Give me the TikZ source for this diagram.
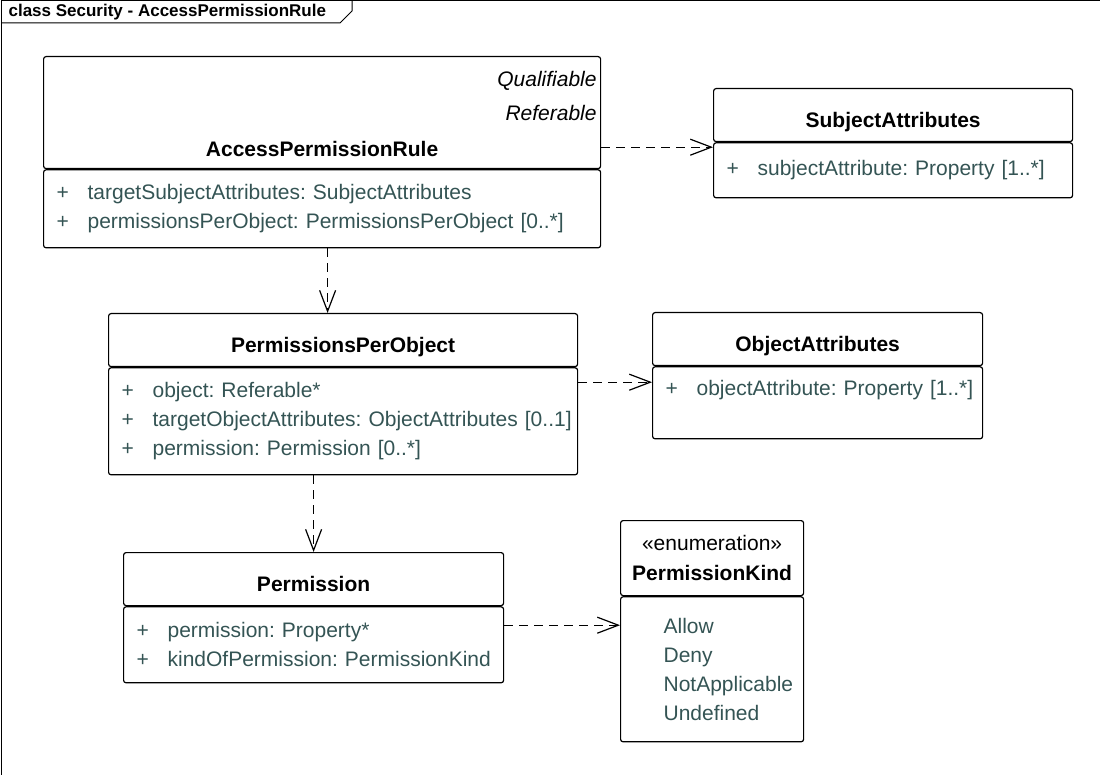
\documentclass[tikz,border=0pt]{standalone}
\usepackage{fontspec}
\setmainfont{Liberation Sans}
\usepackage{xcolor}
\usetikzlibrary{positioning,arrows.meta}

\definecolor{attrgray}{RGB}{52,84,84}
\newcommand{\attr}[1]{\mbox{\makebox[31pt][l]{+}#1}}
\newcommand{\lit}[1]{\mbox{\hspace*{30pt}#1}}
\frenchspacing

\begin{document}
\begin{tikzpicture}[x=1pt, y=-1pt, line width=1.2pt,
  frm/.style={line width=1pt},
  tabtxt/.style={inner sep=0pt, font=\fontsize{17}{20}\selectfont\bfseries},
  cls/.style={draw, rounded corners=2.5pt, inner sep=0pt, anchor=north west},
  hd/.style={cls, align=center, font=\fontsize{21}{30}\selectfont\bfseries},
  hdone/.style={hd, text height=25pt, text depth=0pt},
  bd/.style={cls, inner xsep=13pt, text width=#1, align=left, text=attrgray, font=\fontsize{21}{29}\selectfont},
  ttl/.style={inner sep=0pt, font=\fontsize{21}{30}\selectfont\bfseries},
  stereo/.style={inner sep=0pt, align=right, font=\fontsize{21}{34}\selectfont\itshape},
  dep/.style={dash pattern=on 9pt off 6pt, -{Straight Barb[length=21pt,width=16pt]}}]
  \useasboundingbox (0,0) rectangle (1100,775);
  \clip (0,0) rectangle (1100,775);

  % frame and name tab
  \draw[frm] (1,790) -- (1,1) -- (1110,1);
  \draw[frm] (1,23) -- (340,23) -- (352,11) -- (352,1);
  \node[tabtxt, anchor=west] (tab) at (8,12) {class Security - AccessPermissionRule};

  % classes
  \node[cls, minimum width=557pt, minimum height=112pt] (aprT) at (43,56) {};
  \node[ttl, anchor=base] (aprN) at ([yshift=13pt]aprT.south) {AccessPermissionRule};
  \node[stereo, anchor=north east] (aprS) at ([xshift=-4pt,yshift=-15pt]aprT.north east) {Qualifiable\\Referable};
  \node[bd=531pt, minimum height=78pt] (aprA) at (aprT.south west)
    {\attr{targetSubjectAttributes: SubjectAttributes}\\\attr{permissionsPerObject: PermissionsPerObject [0..*]}};

  \node[hdone, minimum width=359pt, minimum height=53pt] (saT) at (713,88) {SubjectAttributes};
  \node[bd=333pt, minimum height=55pt] (saA) at (saT.south west) {\attr{subjectAttribute: Property [1..*]}};

  \node[hdone, minimum width=469pt, minimum height=53pt] (ppoT) at (108,313) {PermissionsPerObject};
  \node[bd=443pt, minimum height=107pt] (ppoA) at (ppoT.south west)
    {\attr{object: Referable*}\\\attr{targetObjectAttributes: ObjectAttributes [0..1]}\\\attr{permission: Permission [0..*]}};

  \node[hdone, minimum width=330pt, minimum height=53pt] (oaT) at (652,312) {ObjectAttributes};
  \node[bd=304pt, minimum height=72pt] (oaA) at (oaT.south west) {\attr{objectAttribute: Property [1..*]}\\\mbox{}};

  \node[hdone, minimum width=380pt, minimum height=53pt] (permT) at (123,552) {Permission};
  \node[bd=354pt, minimum height=76pt] (permA) at (permT.south west)
    {\attr{permission: Property*}\\\attr{kindOfPermission: PermissionKind}};

  \node[hd, minimum width=183pt, minimum height=75pt] (pkT) at (620,520) {{\mdseries «enumeration»}\\PermissionKind};
  \node[bd=157pt, minimum height=145pt] (pkA) at (pkT.south west)
    {\lit{Allow}\\\lit{Deny}\\\lit{NotApplicable}\\\lit{Undefined}};

  % dependencies
  \coordinate (aprB) at ([xshift=5.5pt]aprA.south);
  \draw[dep] (aprB) -- (aprB |- ppoT.north);
  \draw[dep] (permT.north |- ppoA.south) -- (permT.north);
  \coordinate (aprR) at ([yshift=22pt]aprT.south east);
  \draw[dep] (aprR) -- (aprR -| saT.west);
  \coordinate (ppoR) at ([yshift=-15pt]ppoA.north east);
  \draw[dep] (ppoR) -- (ppoR -| oaA.west);
  \coordinate (permR) at ([yshift=-19pt]permA.north east);
  \draw[dep] (permR) -- (permR -| pkA.west);
\end{tikzpicture}
\end{document}
